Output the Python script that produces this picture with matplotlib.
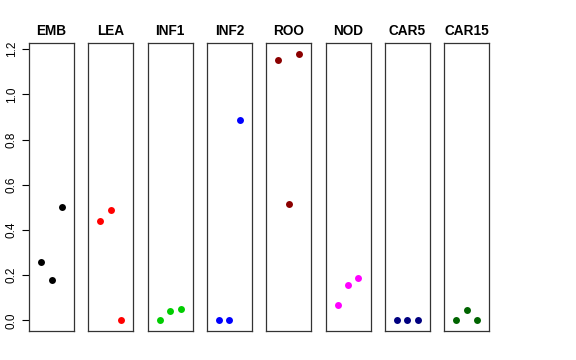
import matplotlib
matplotlib.use("Agg")
import matplotlib.pyplot as plt

plt.rcParams["font.family"] = ["Liberation Sans", "DejaVu Sans"]

panels = ["EMB", "LEA", "INF1", "INF2", "ROO", "NOD", "CAR5", "CAR15"]
colors = ["black", "red", "#00CD00", "blue", "#8B0000", "magenta", "#000080", "#006400"]

emb = [0.26, 0.18, 0.50]
lea = [0.44, 0.49, 0.0]
inf1 = [0.0, 0.043, 0.05]
inf2 = [0.0, 0.0, 0.885]
roo = [1.15, 0.513, 1.18]
nod = [0.068, 0.158, 0.186]
car5 = [0.0, 0.0, 0.0]
car15 = [0.0, 0.044, 0.0]
values = [emb, lea, inf1, inf2, roo, nod, car5, car15]
xpos = [1, 2, 3]

y_ticks = [0.0, 0.2, 0.4, 0.6, 0.8, 1.0, 1.2]
y_tick_labels = ["0.0", "0.2", "0.4", "0.6", "0.8", "1.0", "1.2"]

W, H = 576, 360
fig = plt.figure(figsize=(W / 100, H / 100), dpi=100)

ymax = max(max(v) for v in values)
ylim = (0 - 0.04 * ymax, ymax + 0.04 * ymax)

for i, (name, col, vals) in enumerate(zip(panels, colors, values)):
    left = 29 + i * 59.3
    ax = fig.add_axes([left / W, 29 / H, 45 / W, 288 / H])
    ax.plot(xpos, vals, "o", color=col, markersize=5, markeredgewidth=0)
    ax.set_xlim(-0.16, 4.16)
    ax.set_ylim(*ylim)
    ax.set_xticks([])
    ax.set_title(name, fontsize=9.8, fontweight="bold", pad=5.5)
    for s in ax.spines.values():
        s.set_linewidth(0.9)
        s.set_color("#333333")
    if i == 0:
        ax.set_yticks(y_ticks)
        ax.set_yticklabels(y_tick_labels, rotation=90, va="center", fontsize=8.5)
        ax.tick_params(axis="y", length=5, width=0.8, pad=3)
    else:
        ax.set_yticks([])

fig.savefig("out.png", dpi=100)
